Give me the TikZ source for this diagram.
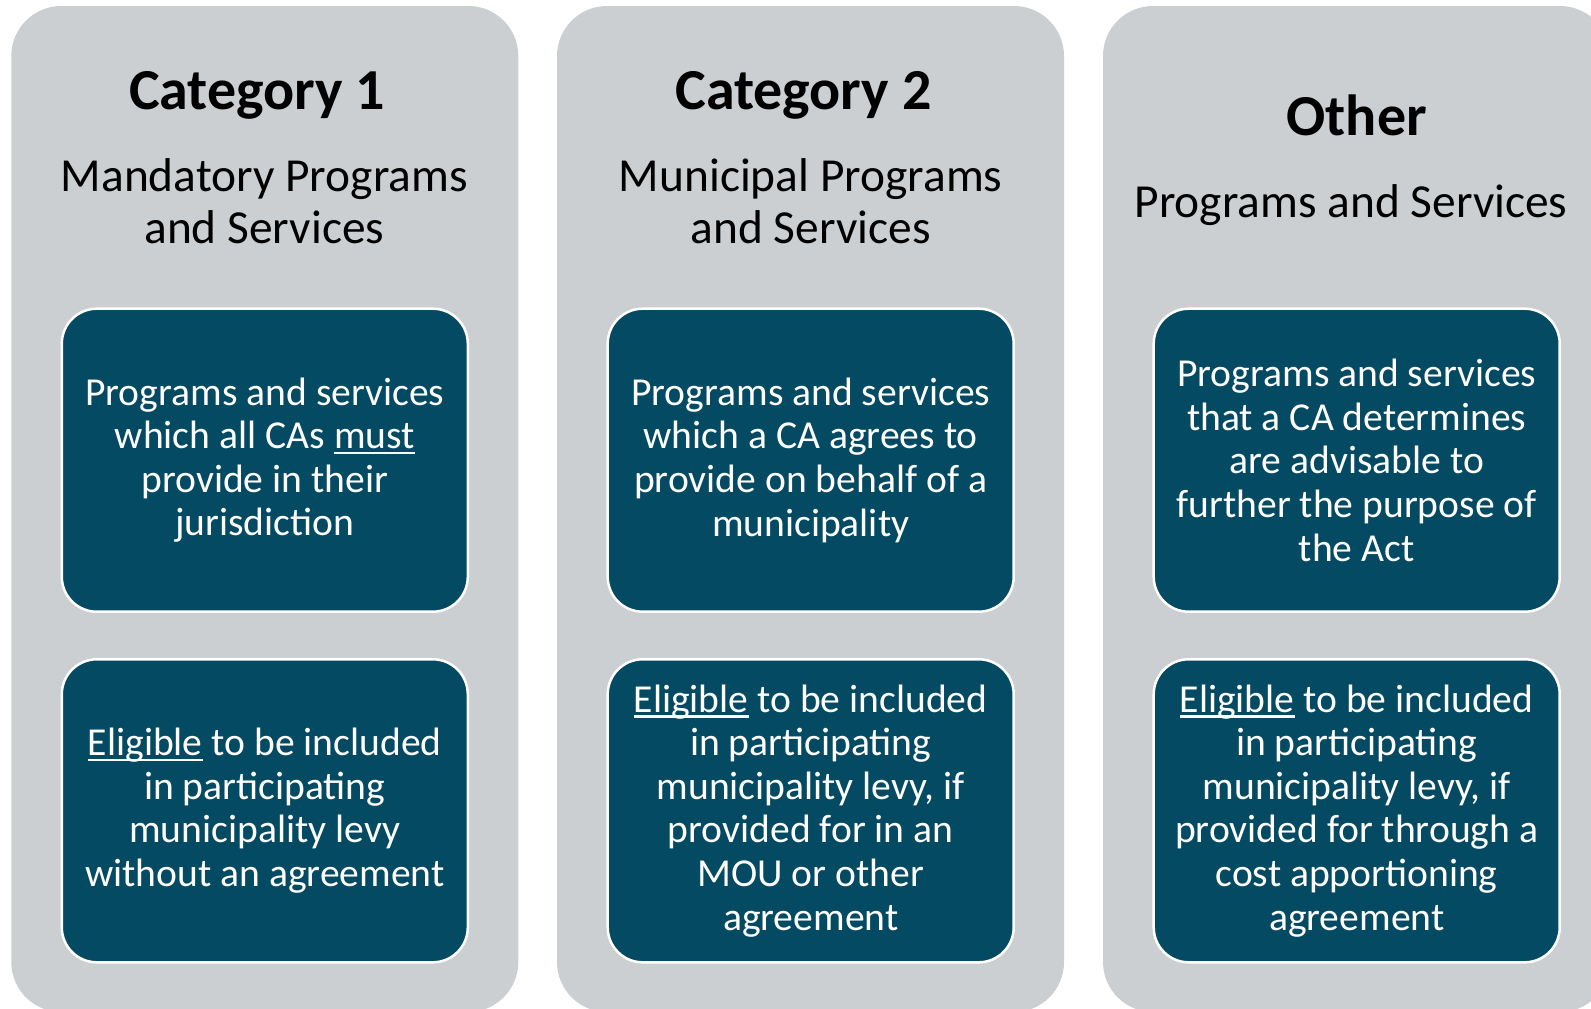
\documentclass[tikz,border=0pt]{standalone}
\usepackage{fontspec}
\setmainfont{Carlito}
\definecolor{panelgray}{RGB}{203,207,210}
\definecolor{boxteal}{RGB}{4,74,98}
\newcommand\myul[1]{\setbox0\hbox{#1}\rlap{\vrule height -0.075em depth 0.135em width \wd0}\box0\relax}
\tikzset{
  panel/.style={fill=panelgray, rounded corners=50pt, minimum width=507pt, minimum height=1006pt, inner sep=0pt},
  card/.style={fill=boxteal, draw=white, line width=2.5pt, rounded corners=35pt, minimum width=406pt, minimum height=303pt, inner sep=0pt, text=white, align=center, font=\fontsize{39.6}{43.6}\selectfont},
  ttl/.style={font=\fontsize{58}{70}\selectfont\bfseries, anchor=base, inner sep=0pt},
  sub/.style={font=\fontsize{47.4}{52.5}\selectfont, align=center, anchor=base, inner sep=0pt}
}
\begin{document}
\begin{tikzpicture}[x=1pt,y=-1pt]
\useasboundingbox (0,0) rectangle (1591,1009);
\fill[white] (0,0) rectangle (1591,1009);
\clip (0,0) rectangle (1591,1009);
% panels
\node[panel] (p1) at (264.8,509) {};
\node[panel] (p2) at (810.5,509) {};
\node[panel] (p3) at (1356.5,509) {};
% titles
\node[ttl] (t1) at (257.2,109.6) {Category 1};
\node[ttl] (t2) at (803.6,109.6) {Category 2};
\node[ttl] (t3) at (1356.7,135) {Other};
% subtitles (base = last line)
\node[sub] (s1) at (264.3,243.5) {Mandatory Programs\\and Services};
\node[sub] (s2) at (810.7,243.5) {Municipal Programs\\and Services};
\node[sub] (s3) at (1351,217) {Programs and Services};
% cards row 1
\node[card] (c11) at (264.8,460.2) {Programs and services\\which all CAs \myul{must}\\provide in their\\jurisdiction};
\node[card] (c21) at (810.7,460.2) {Programs and services\\which a CA agrees to\\provide on behalf of a\\municipality};
\node[card] (c31) at (1356.7,460.2) {Programs and services\\that a CA determines\\are advisable to\\further the purpose of\\the Act};
% cards row 2
\node[card] (c12) at (264.8,810.8) {\myul{Eligible} to be included\\in participating\\municipality levy\\without an agreement};
\node[card] (c22) at (810.7,810.8) {\myul{Eligible} to be included\\in participating\\municipality levy, if\\provided for in an\\MOU or other\\agreement};
\node[card] (c32) at (1356.7,810.8) {\myul{Eligible} to be included\\in participating\\municipality levy, if\\provided for through a\\cost apportioning\\agreement};
\end{tikzpicture}
\end{document}
